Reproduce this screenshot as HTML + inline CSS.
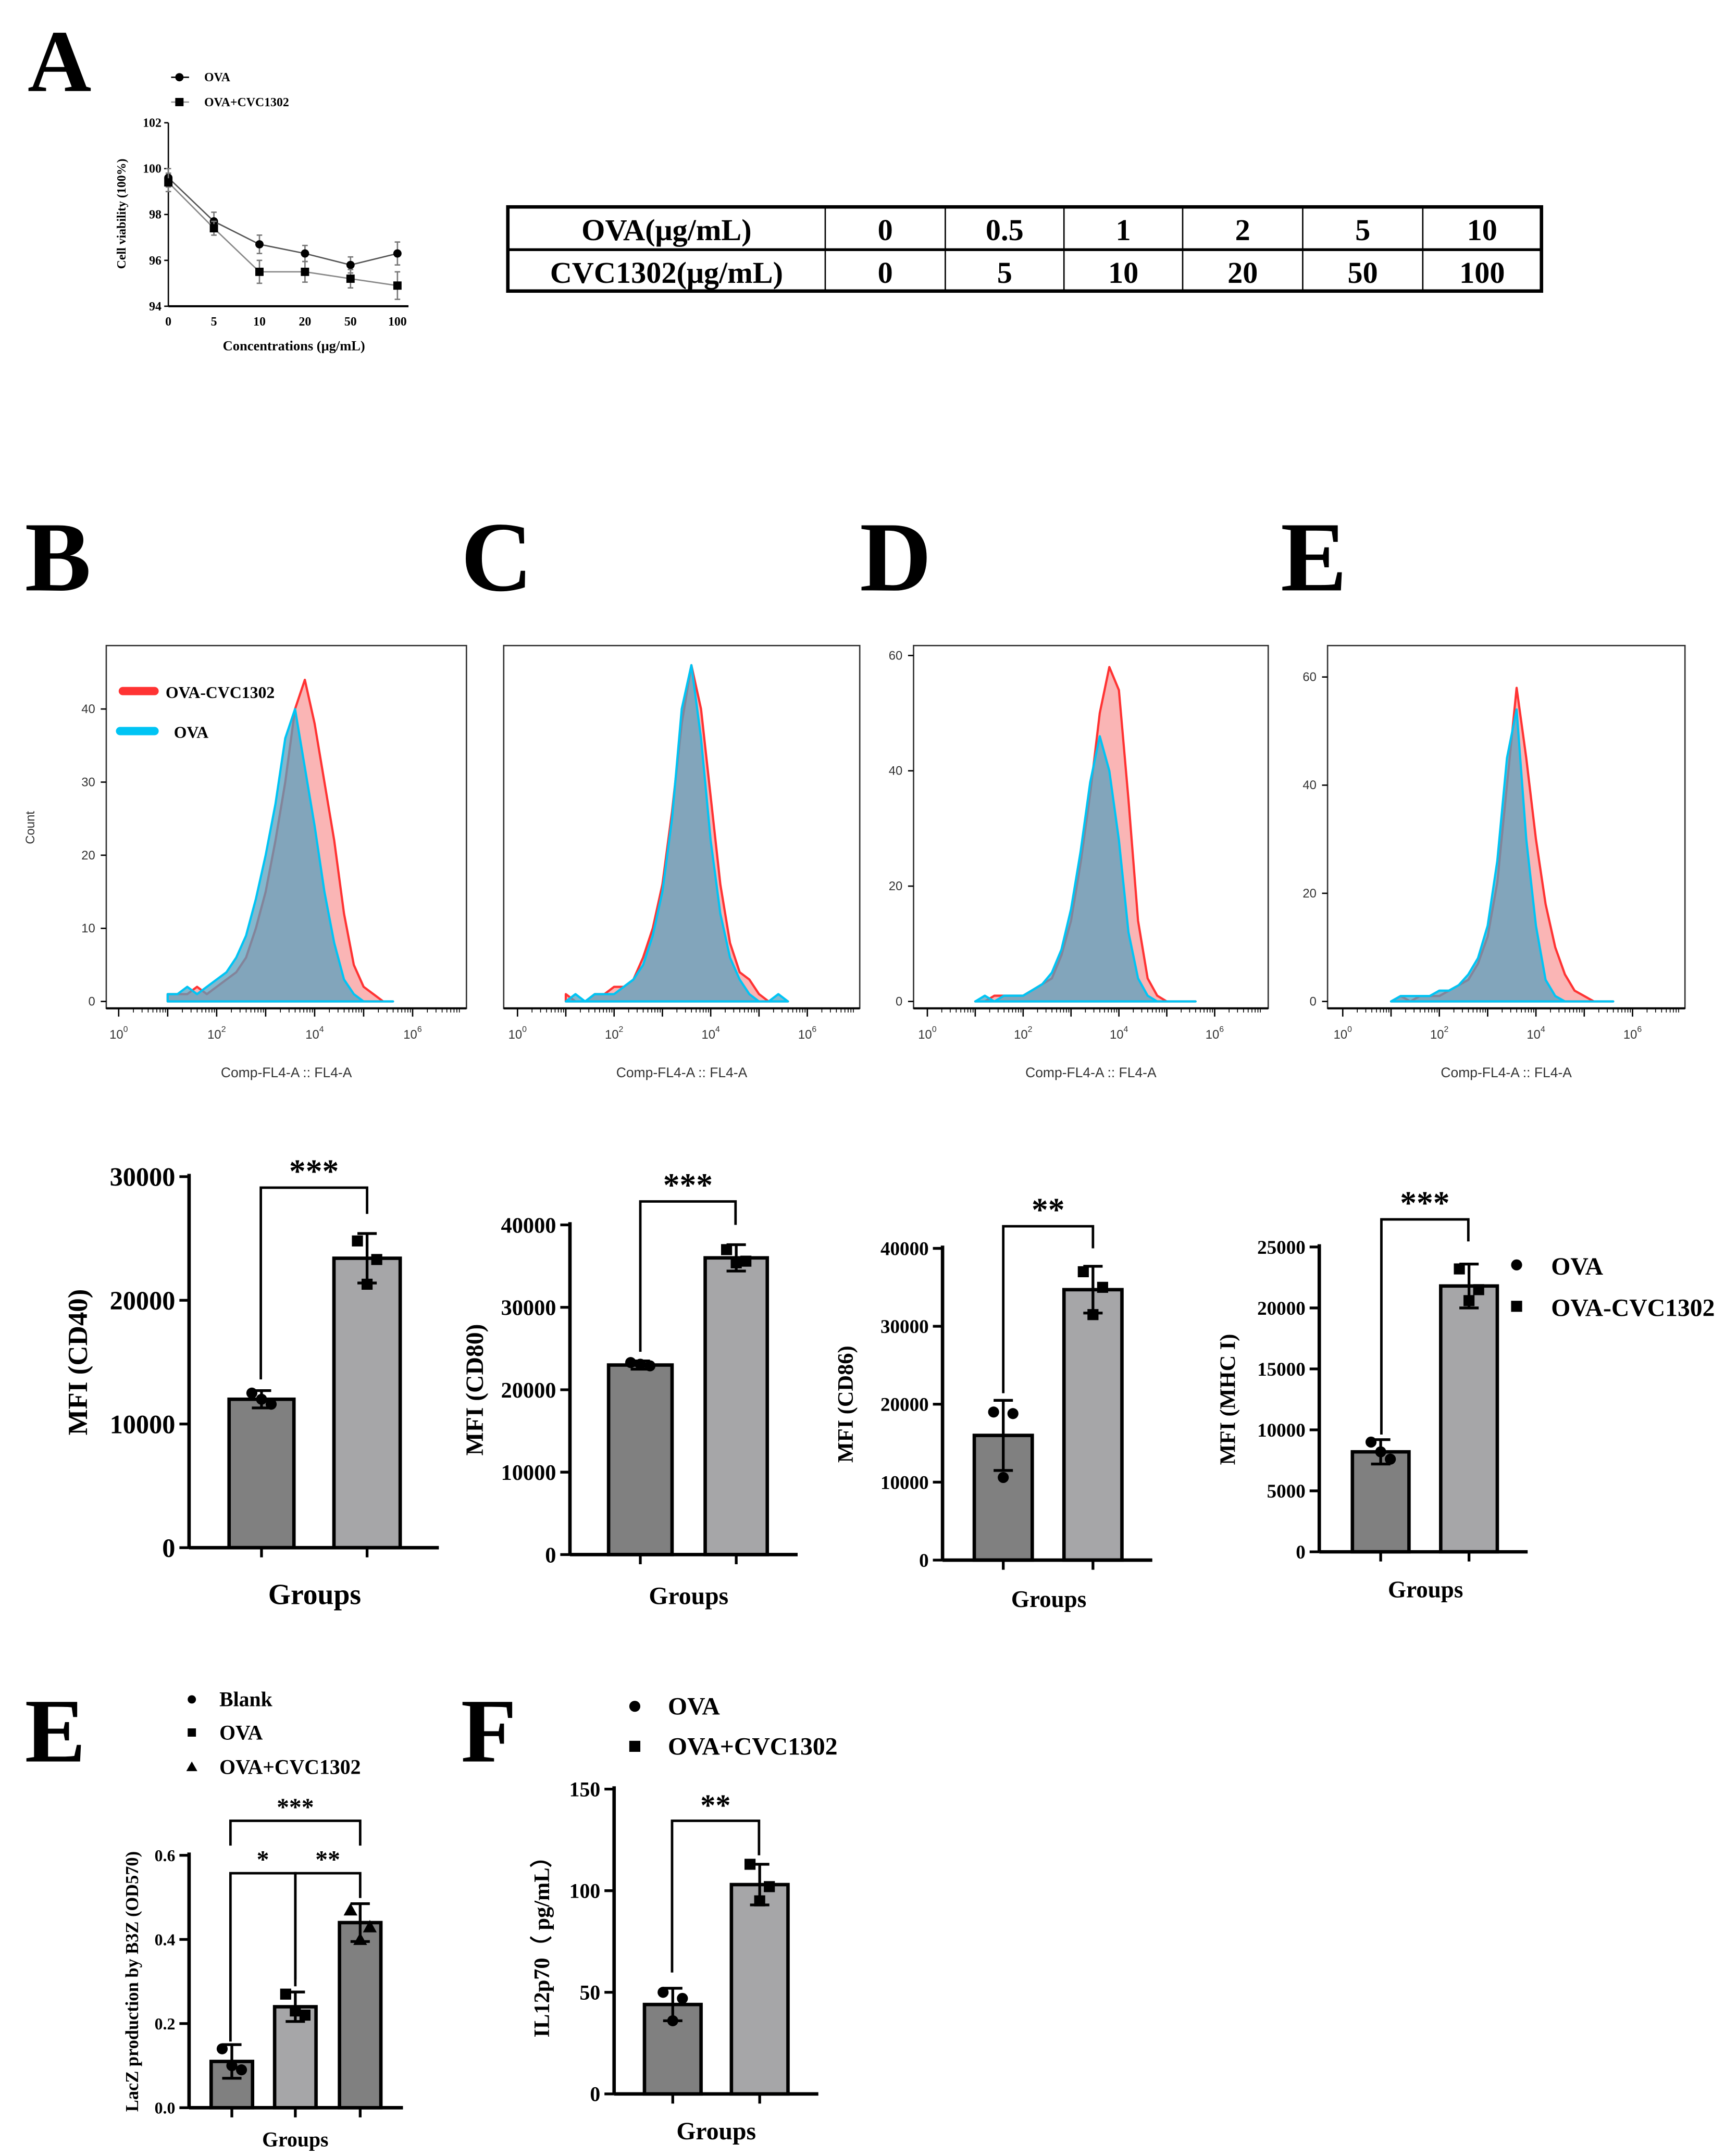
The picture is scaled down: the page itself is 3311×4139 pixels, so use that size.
<!DOCTYPE html>
<html><head><meta charset="utf-8"><style>
html,body{margin:0;padding:0;background:#fff}
svg{display:block}
text{font-family:"Liberation Serif",serif;font-weight:bold;fill:#000}
.sans{font-family:"Liberation Sans",sans-serif;font-weight:normal;fill:#333}
</style></head><body>
<svg id="fig" xmlns="http://www.w3.org/2000/svg" width="3311" height="4139" viewBox="0 0 1250 1563" preserveAspectRatio="none">
<text x="20" y="66" font-size="64">A</text>
<text x="18" y="428" font-size="72">B</text>
<text x="334" y="428" font-size="72">C</text>
<text x="623" y="428" font-size="72">D</text>
<text x="928" y="428" font-size="72">E</text>
<text x="18" y="1277" font-size="66">E</text>
<text x="334" y="1277" font-size="66">F</text>
<g id="table"></g>
</svg>
<script>
const NS="http://www.w3.org/2000/svg";
const svg=document.getElementById('fig');
function mk(tag,attrs,parent,txt){const e=document.createElementNS(NS,tag);for(const k in attrs)e.setAttribute(k,attrs[k]);if(txt!==undefined)e.textContent=txt;(parent||svg).appendChild(e);return e;}

/* ---------- Panel A data ---------- */
const aCategories=["0","5","10","20","50","100"];
const aOva=[99.6,97.7,96.7,96.3,95.8,96.3];
const aOvaErr=[0.4,0.4,0.4,0.35,0.35,0.5];
const aCvc=[99.4,97.4,95.5,95.5,95.2,94.9];
const aCvcErr=[0.4,0.3,0.5,0.45,0.4,0.6];
const aTicks=[94,96,98,100,102];

/* ---------- table ---------- */
const tableRow1=["OVA(μg/mL)","0","0.5","1","2","5","10"];
const tableRow2=["CVC1302(μg/mL)","0","5","10","20","50","100"];

/* ---------- histogram data (bins in log10 units) ---------- */
const histBins=[1.0,1.2,1.4,1.6,1.8,2.0,2.2,2.4,2.6,2.8,3.0,3.2,3.4,3.6,3.8,4.0,4.2,4.4,4.6,4.8,5.0,5.2,5.4,5.6];
const histBRed=[1,1,1,2,1,2,3,4,6,10,15,22,30,40,44,38,30,22,12,5,2,1,0,0];
const histBBlue=[1,1,2,1,2,3,4,6,9,14,20,27,36,40,32,24,15,8,3,1,0,0,0,0];
const histCRed=[1,0,0,1,1,2,2,3,6,10,16,26,38,46,40,28,16,8,4,3,1,0,0,0];
const histCBlue=[0,1,0,1,1,1,2,3,5,9,15,25,40,46,36,22,12,6,3,1,0,0,1,0];
const histDRed=[0,0,1,1,1,1,2,3,4,8,14,24,36,50,58,54,35,14,4,1,0,0,0,0];
const histDBlue=[0,1,0,1,1,1,2,3,5,9,16,26,38,46,40,28,12,4,1,0,0,0,0,0];
const histERed=[0,1,0,1,1,1,2,3,4,7,12,22,40,58,45,30,18,10,5,2,1,0,0,0];
const histEBlue=[0,1,1,1,1,2,2,3,5,8,14,26,45,54,30,14,4,1,0,0,0,0,0,0];

/* ---------- bar chart data ---------- */
const cd40Means=[12000,23400];const cd40Err=[700,2000];const cd40Pts=[[12500,11600,12000],[24800,23300,21300]];
const cd80Means=[23000,36000];const cd80Err=[500,1600];const cd80Pts=[[23300,22900,23100],[37000,35600,35400]];
const cd86Means=[16000,34700];const cd86Err=[4500,3000];const cd86Pts=[[19000,18800,10600],[37000,35000,31500]];
const mhcMeans=[8200,21800];const mhcErr=[1000,1800];const mhcPts=[[9000,7600,8200],[23200,21500,20600]];
const laczMeans=[0.11,0.24,0.44];const laczErr=[0.04,0.035,0.045];const laczPts=[[0.14,0.09,0.1],[0.27,0.22,0.23],[0.47,0.43,0.4]];
const ilMeans=[44,103];const ilErr=[8,10];const ilPts=[[50,47,36],[113,102,95]];

/* ===== Panel A chart ===== */
(function(){
  const g=mk('g',{});
  const x0=122,yTop=89,yBot=222,xs=[122,155,188,221,254,288];
  const y=v=>yBot-(v-94)/(102-94)*(yBot-yTop);
  mk('line',{x1:x0,y1:yTop,x2:x0,y2:yBot,stroke:'#000','stroke-width':1},g);
  mk('line',{x1:x0,y1:yBot,x2:296,y2:yBot,stroke:'#000','stroke-width':1.5},g);
  aTicks.forEach(t=>{mk('line',{x1:x0-3,y1:y(t),x2:x0,y2:y(t),stroke:'#000'},g);
    mk('text',{x:x0-5,y:y(t)+3,'font-size':9,'text-anchor':'end'},g,String(t));});
  aCategories.forEach((c,i)=>{mk('text',{x:xs[i],y:yBot+14,'font-size':9,'text-anchor':'middle'},g,c);});
  mk('text',{x:213,y:254,'font-size':10,'text-anchor':'middle'},g,'Concentrations (μg/mL)');
  mk('text',{x:0,y:0,'font-size':9,'text-anchor':'middle',transform:'translate(91,155) rotate(-90)'},g,'Cell viability (100%)');
  [[aOva,aOvaErr,'circle','#555'],[aCvc,aCvcErr,'rect','#888']].forEach(([vals,err,shape,lc])=>{
    let d='';vals.forEach((v,i)=>{d+=(i?'L':'M')+xs[i]+' '+y(v);});
    mk('path',{d,fill:'none',stroke:lc,'stroke-width':1},g);
    vals.forEach((v,i)=>{
      mk('line',{x1:xs[i],y1:y(v-err[i]),x2:xs[i],y2:y(v+err[i]),stroke:'#777'},g);
      mk('line',{x1:xs[i]-2,y1:y(v-err[i]),x2:xs[i]+2,y2:y(v-err[i]),stroke:'#777'},g);
      mk('line',{x1:xs[i]-2,y1:y(v+err[i]),x2:xs[i]+2,y2:y(v+err[i]),stroke:'#777'},g);
      const m=shape==='circle'?mk('circle',{cx:xs[i],cy:y(v),r:3,fill:'#000'},g):mk('rect',{x:xs[i]-3,y:y(v)-3,width:6,height:6,fill:'#000'},g);
      
      
    });
  });
  mk('line',{x1:124,y1:56,x2:137,y2:56,stroke:'#000'},g);mk('circle',{cx:130,cy:56,r:3},g);
  mk('text',{x:148,y:59,'font-size':9},g,'OVA');
  mk('line',{x1:124,y1:74,x2:137,y2:74,stroke:'#999'},g);mk('rect',{x:127,y:71,width:6,height:6},g);
  mk('text',{x:148,y:77,'font-size':9},g,'OVA+CVC1302');
})();

/* ===== table ===== */
(function(){
  const g=document.getElementById('table');
  const cols=[368,598,685,771,857,944,1031,1117],rows=[150,181,211];
  mk('rect',{x:368,y:150,width:749,height:61,fill:'none',stroke:'#000','stroke-width':2.5},g);
  mk('line',{x1:368,y1:181,x2:1117,y2:181,stroke:'#000','stroke-width':2},g);
  cols.slice(1,-1).forEach(c=>mk('line',{x1:c,y1:150,x2:c,y2:211,stroke:'#000','stroke-width':1},g));
  [tableRow1,tableRow2].forEach((r,ri)=>r.forEach((t,ci)=>{
    const e=mk('text',{x:(cols[ci]+cols[ci+1])/2,y:rows[ri]+24,'font-size':22,'text-anchor':'middle'},g,t);
    
    
  }));
})();

/* ===== histograms ===== */
function histogram(name,box,xDec,yZero,pxPerCount,yLabels,red,blue,legend){
  const g=mk('g',{});
  const [bx0,by0,bx1,by1]=box;
  const xs=l=>xDec[0]+l*(xDec[1]);
  const ys=c=>yZero-c*pxPerCount;
  mk('rect',{x:bx0,y:by0,width:bx1-bx0,height:by1-by0,fill:'#fff',stroke:'#333','stroke-width':1},g);
  [[red,'rgba(245,90,90,0.45)','#ff3333','red-histogram'],[blue,'rgba(90,160,190,0.75)','#00c4f4','blue-histogram']].forEach(([vals,fill,st,nm])=>{
    let d='M'+xs(histBins[0])+' '+ys(0);
    vals.forEach((v,i)=>{d+=' L'+xs(histBins[i])+' '+ys(v);});
    d+=' L'+xs(histBins[histBins.length-1])+' '+ys(0)+' Z';
    const p=mk('path',{d,fill,stroke:st,'stroke-width':1.6,'stroke-linejoin':'round'},g);
    
    
  });
  mk('line',{x1:bx0,y1:by1,x2:bx1,y2:by1,stroke:'#000','stroke-width':1.5},g);
  for(let dcd=0;dcd<=6;dcd++){
    const X=xs(dcd);
    if(X<bx1){mk('line',{x1:X,y1:by1,x2:X,y2:by1+6,stroke:'#000'},g);}
    for(let k=2;k<10;k++){const xx=xs(dcd+Math.log10(k));if(xx<bx1-2)mk('line',{x1:xx,y1:by1,x2:xx,y2:by1+3,stroke:'#000','stroke-width':0.6},g);}
    if(dcd%2===0){const t=mk('text',{x:X,y:by1+22,'font-size':9,'text-anchor':'middle',class:'sans'},g,'10');
      mk('tspan',{dy:-5,'font-size':6},t,String(dcd));}
  }
  yLabels.forEach(v=>{mk('line',{x1:bx0-4,y1:ys(v),x2:bx0,y2:ys(v),stroke:'#000'},g);
    mk('text',{x:bx0-8,y:ys(v)+3,'font-size':9,'text-anchor':'end',class:'sans'},g,String(v));});
  mk('text',{x:(bx0+bx1)/2,y:by1+50,'font-size':10,'text-anchor':'middle',class:'sans'},g,'Comp-FL4-A :: FL4-A');
  if(legend){
    mk('line',{x1:89,y1:501,x2:112,y2:501,stroke:'#ff3333','stroke-width':6,'stroke-linecap':'round'},g);
    mk('text',{x:120,y:506,'font-size':12,fill:'#ff3333'},g,'OVA-CVC1302');
    mk('line',{x1:87,y1:530,x2:112,y2:530,stroke:'#00c4f4','stroke-width':6,'stroke-linecap':'round'},g);
    mk('text',{x:126,y:535,'font-size':12,fill:'#00c4f4'},g,'OVA');
    mk('text',{x:0,y:0,'font-size':9,'text-anchor':'middle',class:'sans',transform:'translate(25,600) rotate(-90)'},g,'Count');
  }
}
histogram('histogram-cd40',[77,468,338,731],[86,35.5],726,5.3,[0,10,20,30,40],histBRed,histBBlue,true);
histogram('histogram-cd80',[365,468,623,731],[375,35],726,5.3,[],histCRed,histCBlue,false);
histogram('histogram-cd86',[662,468,919,731],[672,34.7],726,4.18,[0,20,40,60],histDRed,histDBlue,false);
histogram('histogram-mhc',[962,468,1221,731],[973,35],726,3.92,[0,20,40,60],histERed,histEBlue,false);

/* ===== bar charts ===== */
function barChart(o){
  const g=mk('g',{});
  const y=v=>o.yBot-v/o.yMax*(o.yBot-o.yTop);
  const fs=o.fs;
  o.means.forEach((m,i)=>{
    const [x0,x1]=o.bars[i];const cx=(x0+x1)/2;
    const r=mk('rect',{x:x0,y:y(m),width:x1-x0,height:o.yBot-y(m),fill:o.colors[i],stroke:'#000','stroke-width':2.5},g);
    
    
    const e=o.err[i];
    mk('line',{x1:cx,y1:y(m+e),x2:cx,y2:y(m-e),stroke:'#000','stroke-width':2},g);
    mk('line',{x1:cx-7,y1:y(m+e),x2:cx+7,y2:y(m+e),stroke:'#000','stroke-width':2},g);
    mk('line',{x1:cx-7,y1:y(m-e),x2:cx+7,y2:y(m-e),stroke:'#000','stroke-width':2},g);
    o.pts[i].forEach((p,j)=>{
      const px=cx+[-7,7,0][j];const s=o.markers[i];
      let mm;
      if(s==='c')mm=mk('circle',{cx:px,cy:y(p),r:4},g);
      else if(s==='s')mm=mk('rect',{x:px-4,y:y(p)-4,width:8,height:8},g);
      else mm=mk('path',{d:`M${px} ${y(p)-5}L${px+5} ${y(p)+4}L${px-5} ${y(p)+4}Z`},g);
      
      
    });
  });
  mk('line',{x1:o.ax,y1:o.yTop-2,x2:o.ax,y2:o.yBot,stroke:'#000','stroke-width':2.5},g);
  mk('line',{x1:o.ax,y1:o.yBot,x2:o.axEnd,y2:o.yBot,stroke:'#000','stroke-width':2.5},g);
  o.ticks.forEach(t=>{mk('line',{x1:o.ax-7,y1:y(t),x2:o.ax,y2:y(t),stroke:'#000','stroke-width':2},g);
    mk('text',{x:o.ax-10,y:y(t)+fs*0.35,'font-size':fs,'text-anchor':'end'},g,o.tickFmt?o.tickFmt(t):String(t));});
  o.bars.forEach(b=>{const cx=(b[0]+b[1])/2;mk('line',{x1:cx,y1:o.yBot,x2:cx,y2:o.yBot+7,stroke:'#000','stroke-width':2},g);});
  mk('text',{x:o.gx,y:o.gy,'font-size':o.gfs,'text-anchor':'middle'},g,'Groups');
  mk('text',{x:0,y:0,'font-size':o.lfs,'text-anchor':'middle',transform:`translate(${o.lx},${(o.yTop+o.yBot)/2}) rotate(-90)`},g,o.ylabel);
  o.sig.forEach(s=>{
    mk('path',{d:`M${s[0]} ${s[3]}L${s[0]} ${s[2]}L${s[1]} ${s[2]}L${s[1]} ${s[4]}`,fill:'none',stroke:'#000','stroke-width':1.8},g);
    mk('text',{x:(s[0]+s[1])/2,y:s[2]-4,'font-size':s[6]||22,'text-anchor':'middle'},g,s[5]);
  });
}
const dark='#808080',light='#a6a6a8';
barChart({name:'cd40-bar-chart',ax:137,axEnd:318,yTop:853,yBot:1122,yMax:30000,ticks:[0,10000,20000,30000],means:cd40Means,err:cd40Err,pts:cd40Pts,bars:[[166,213],[242,290]],colors:[dark,light],markers:['c','s'],fs:19,gx:228,gy:1163,gfs:21,lx:63,lfs:20,ylabel:'MFI (CD40)',sig:[[189,266,861,1000,880,'***',24]]});
barChart({name:'cd80-bar-chart',ax:413,axEnd:578,yTop:888,yBot:1127,yMax:40000,ticks:[0,10000,20000,30000,40000],means:cd80Means,err:cd80Err,pts:cd80Pts,bars:[[441,487],[511,556]],colors:[dark,light],markers:['c','s'],fs:16,gx:499,gy:1163,gfs:18,lx:350,lfs:18,ylabel:'MFI (CD80)',sig:[[464,533,871,980,888,'***',24]]});
barChart({name:'cd86-bar-chart',ax:683,axEnd:835,yTop:905,yBot:1131,yMax:40000,ticks:[0,10000,20000,30000,40000],means:cd86Means,err:cd86Err,pts:cd86Pts,bars:[[706,748],[771,813]],colors:[dark,light],markers:['c','s'],fs:14,gx:760,gy:1165,gfs:17,lx:618,lfs:16,ylabel:'MFI (CD86)',sig:[[727,792,889,1010,905,'**',24]]});
barChart({name:'mhc-bar-chart',ax:956,axEnd:1107,yTop:904,yBot:1125,yMax:25000,ticks:[0,5000,10000,15000,20000,25000],means:mhcMeans,err:mhcErr,pts:mhcPts,bars:[[980,1021],[1044,1085]],colors:[dark,light],markers:['c','s'],fs:14,gx:1033,gy:1158,gfs:17,lx:895,lfs:16,ylabel:'MFI (MHC I)',sig:[[1001,1064,884,1040,900,'***',24]]});
barChart({name:'lacz-bar-chart',ax:137,axEnd:292,yTop:1345,yBot:1528,yMax:0.6,ticks:[0,0.2,0.4,0.6],tickFmt:t=>t.toFixed(1),means:laczMeans,err:laczErr,pts:laczPts,bars:[[153,183],[199,229],[246,276]],colors:[dark,light,dark],markers:['c','s','t'],fs:12,gx:214,gy:1556,gfs:15,lx:100,lfs:13,ylabel:'LacZ production by B3Z (OD570)',sig:[[167,261,1320,1338,1338,'***',18],[167,214,1358,1480,1440,'*',18],[214,261,1358,1435,1376,'**',18]]});
barChart({name:'il12-bar-chart',ax:445,axEnd:593,yTop:1297,yBot:1518,yMax:150,ticks:[0,50,100,150],means:ilMeans,err:ilErr,pts:ilPts,bars:[[467,508],[530,571]],colors:[dark,light],markers:['c','s'],fs:15,gx:519,gy:1551,gfs:18,lx:398,lfs:16,ylabel:'IL12p70（ pg/mL）',sig:[[487,550,1320,1430,1345,'**',22]]});

/* legends for bar charts */
(function(){
  const g=mk('g',{});
  mk('circle',{cx:1099,cy:917,r:4},g);mk('text',{x:1124,y:924,'font-size':18},g,'OVA');
  mk('rect',{x:1095,y:943,width:8,height:8},g);mk('text',{x:1124,y:954,'font-size':18},g,'OVA-CVC1302');
  const g2=mk('g',{});
  mk('circle',{cx:139,cy:1232,r:3},g2);mk('text',{x:159,y:1237,'font-size':15},g2,'Blank');
  mk('rect',{x:136,y:1253,width:6,height:6},g2);mk('text',{x:159,y:1261,'font-size':15},g2,'OVA');
  mk('path',{d:'M139 1277L143 1284L135 1284Z'},g2);mk('text',{x:159,y:1286,'font-size':15},g2,'OVA+CVC1302');
  const g3=mk('g',{});
  mk('circle',{cx:460,cy:1237,r:4},g3);mk('text',{x:484,y:1243,'font-size':18},g3,'OVA');
  mk('rect',{x:456,y:1262,width:8,height:8},g3);mk('text',{x:484,y:1272,'font-size':18},g3,'OVA+CVC1302');
})();
</script>
</body></html>
